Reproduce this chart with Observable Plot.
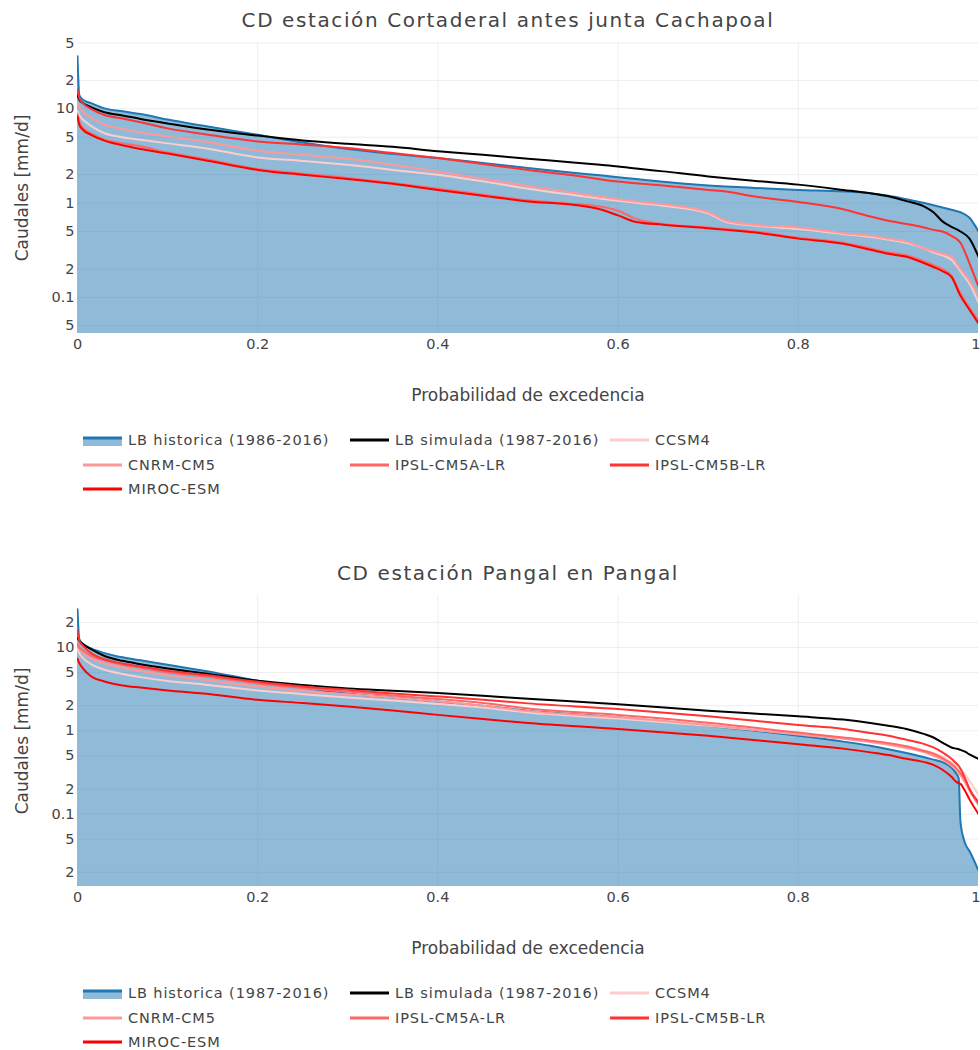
<!DOCTYPE html>
<html><head><meta charset="utf-8">
<script src="https://cdn.jsdelivr.net/npm/d3@7"></script>
<script src="https://cdn.jsdelivr.net/npm/@observablehq/plot@0.6"></script>
<style>
body{margin:0;background:#fff;font-family:"DejaVu Sans",Verdana,sans-serif;color:#444;}
#root{position:relative;width:980px;height:1050px;overflow:hidden;}
.panel{position:absolute;left:0;width:980px;height:540px;}
.title{position:absolute;left:0;top:6px;width:1016px;text-align:center;font-size:20px;letter-spacing:1.6px;line-height:28px;color:#444;}
.plot{position:absolute;left:0;top:30px;}
.leg{position:absolute;display:flex;align-items:center;font-size:14.5px;letter-spacing:0.9px;color:#444;white-space:nowrap;height:20px;}
.leg svg{margin-right:5px;}
</style></head>
<body><div id="root"></div>
<script>
// ---------- DATA ----------
const titles = ["CD estación Cortaderal antes junta Cachapoal", "CD estación Pangal en Pangal"];
const histNames = ["LB historica (1986-2016)", "LB historica (1987-2016)"];
const simName = "LB simulada (1987-2016)";
const gcmNames = ["CCSM4", "CNRM-CM5", "IPSL-CM5A-LR", "IPSL-CM5B-LR", "MIROC-ESM"];
const xTicks = [0, 0.2, 0.4, 0.6, 0.8];
const xTickLast = [1];

// Panel 1: Cortaderal (exceedance probability grid)
const pTop = [0, 0.002, 0.006, 0.015, 0.03, 0.05, 0.07, 0.1, 0.14, 0.2, 0.25, 0.3, 0.35, 0.4, 0.45, 0.5, 0.55, 0.58, 0.6, 0.62, 0.65, 0.7, 0.72, 0.75, 0.8, 0.85, 0.88, 0.9, 0.92, 0.94, 0.95, 0.96, 0.97, 0.98, 0.99, 1.0];
const histTop = [36, 14, 12.5, 11.5, 10.1, 9.4, 8.8, 7.7, 6.6, 5.3, 4.4, 3.75, 3.33, 3.0, 2.66, 2.36, 2.1, 1.97, 1.88, 1.8, 1.68, 1.54, 1.5, 1.45, 1.38, 1.33, 1.27, 1.2, 1.1, 1.0, 0.95, 0.9, 0.85, 0.8, 0.7, 0.5];
const simTop = [14, 12.5, 11.5, 10.4, 9.2, 8.5, 7.8, 7.0, 6.1, 5.2, 4.6, 4.25, 3.95, 3.55, 3.25, 2.95, 2.7, 2.55, 2.45, 2.33, 2.17, 1.92, 1.84, 1.73, 1.57, 1.38, 1.27, 1.18, 1.05, 0.92, 0.8, 0.64, 0.56, 0.5, 0.42, 0.27];
const ccsm4Top = [9.5, 8.6, 7.7, 6.6, 5.5, 5.0, 4.7, 4.3, 3.85, 3.05, 2.8, 2.55, 2.25, 2.0, 1.7, 1.42, 1.22, 1.12, 1.06, 1.01, 0.94, 0.78, 0.63, 0.58, 0.53, 0.47, 0.44, 0.41, 0.38, 0.33, 0.3, 0.28, 0.25, 0.19, 0.14, 0.088];
const cnrmTop = [11.5, 10.4, 9.3, 8.1, 6.8, 6.1, 5.6, 5.1, 4.5, 3.6, 3.25, 2.95, 2.55, 2.15, 1.8, 1.52, 1.29, 1.17, 1.1, 1.04, 0.97, 0.8, 0.65, 0.59, 0.55, 0.48, 0.45, 0.42, 0.39, 0.33, 0.31, 0.29, 0.27, 0.2, 0.15, 0.104];
const ipslATop = [8.8, 7.3, 6.3, 5.5, 4.7, 4.3, 4.0, 3.45, 2.95, 2.3, 2.05, 1.85, 1.63, 1.42, 1.23, 1.07, 0.98, 0.92, 0.83, 0.68, 0.6, 0.55, 0.53, 0.5, 0.43, 0.38, 0.33, 0.3, 0.28, 0.24, 0.22, 0.2, 0.17, 0.11, 0.078, 0.056];
const ipslBTop = [16, 13, 11.5, 10.0, 8.6, 7.9, 7.2, 6.2, 5.4, 4.5, 4.17, 3.83, 3.4, 3.0, 2.6, 2.25, 1.97, 1.79, 1.69, 1.62, 1.54, 1.38, 1.33, 1.18, 1.03, 0.86, 0.72, 0.65, 0.6, 0.55, 0.52, 0.5, 0.45, 0.38, 0.23, 0.13];
const mirocTop = [8.3, 6.8, 6.0, 5.3, 4.6, 4.1, 3.75, 3.35, 2.87, 2.25, 2.0, 1.8, 1.6, 1.38, 1.2, 1.04, 0.96, 0.86, 0.74, 0.63, 0.59, 0.54, 0.52, 0.49, 0.42, 0.37, 0.32, 0.29, 0.27, 0.23, 0.21, 0.19, 0.165, 0.104, 0.074, 0.053];

// Panel 2: Pangal
const pBot = [0, 0.002, 0.006, 0.015, 0.03, 0.05, 0.07, 0.1, 0.14, 0.2, 0.25, 0.3, 0.35, 0.4, 0.45, 0.5, 0.6, 0.7, 0.8, 0.85, 0.88, 0.9, 0.92, 0.94, 0.95, 0.96, 0.97, 0.975, 0.978, 0.98, 0.985, 0.99, 1.0];
const histBot = [28.8, 12.6, 11, 9.7, 8.55, 7.6, 7.0, 6.2, 5.25, 3.98, 3.3, 2.8, 2.5, 2.25, 2.0, 1.74, 1.45, 1.15, 0.87, 0.74, 0.66, 0.6, 0.54, 0.48, 0.45, 0.42, 0.36, 0.31, 0.27, 0.08, 0.045, 0.036, 0.021];
const simBot = [13, 12, 11, 9.55, 7.9, 6.9, 6.3, 5.6, 4.9, 3.98, 3.54, 3.22, 3.02, 2.83, 2.63, 2.42, 2.08, 1.74, 1.49, 1.36, 1.24, 1.15, 1.05, 0.91, 0.83, 0.72, 0.63, 0.61, 0.6, 0.59, 0.56, 0.52, 0.46];
const ccsm4Bot = [9.5, 8.5, 7.5, 6.3, 5.4, 4.8, 4.4, 3.95, 3.6, 3.05, 2.75, 2.5, 2.3, 2.1, 1.9, 1.65, 1.4, 1.15, 0.92, 0.82, 0.76, 0.71, 0.65, 0.58, 0.54, 0.49, 0.42, 0.39, 0.37, 0.35, 0.3, 0.25, 0.17];
const cnrmBot = [10.5, 9.5, 8.6, 7.4, 6.4, 5.7, 5.2, 4.6, 4.1, 3.4, 3.0, 2.75, 2.5, 2.25, 2.0, 1.72, 1.45, 1.17, 0.9, 0.8, 0.73, 0.68, 0.62, 0.55, 0.5, 0.45, 0.38, 0.34, 0.31, 0.29, 0.24, 0.19, 0.13];
const ipslABot = [11, 10, 9.2, 8.0, 7.0, 6.2, 5.7, 5.0, 4.5, 3.7, 3.25, 2.95, 2.65, 2.4, 2.15, 1.85, 1.55, 1.25, 0.95, 0.83, 0.76, 0.71, 0.65, 0.57, 0.53, 0.47, 0.4, 0.36, 0.33, 0.31, 0.26, 0.2, 0.13];
const ipslBBot = [15.8, 12, 10.5, 8.55, 7.2, 6.4, 5.9, 5.25, 4.7, 3.87, 3.4, 3.1, 2.8, 2.58, 2.36, 2.13, 1.82, 1.49, 1.17, 1.05, 0.94, 0.87, 0.78, 0.69, 0.63, 0.55, 0.46, 0.41, 0.38, 0.35, 0.27, 0.2, 0.14];
const mirocBot = [7.3, 6.5, 5.6, 4.5, 3.9, 3.5, 3.3, 3.05, 2.8, 2.35, 2.15, 1.95, 1.75, 1.55, 1.38, 1.24, 1.05, 0.87, 0.69, 0.61, 0.55, 0.51, 0.46, 0.42, 0.39, 0.34, 0.28, 0.245, 0.235, 0.23, 0.19, 0.15, 0.1];

const yDomTop = [0.0414, 50.5];
const yDomBot = [0.0135, 42];
const yTicksTop = [0.05, 0.1, 0.2, 0.5, 1, 2, 5, 10, 20, 50];
const yTicksBot = [0.02, 0.05, 0.1, 0.2, 0.5, 1, 2, 5, 10, 20];

// ---------- STYLE ----------
const histColor = "#1f77b4";
const simColor = "#000000";
const gcmColors = ["#ffcccc", "#ff9999", "#ff6666", "#ff3333", "#ff0000"];
const FONT = "'DejaVu Sans', Verdana, sans-serif";

function yFmt(d) {
  const e = Math.log10(d);
  if (Math.abs(e - Math.round(e)) < 1e-9) return String(+d.toPrecision(3));
  return String(Math.round(d / Math.pow(10, Math.floor(e))));
}

function makePlot(P, hist, sim, gcms, yDomain, yTicks) {
  const hd = P.map((p, i) => ({p, v: hist[i]}));
  const sd = P.map((p, i) => ({p, v: sim[i]}));
  const curve = "monotone-x";
  return Plot.plot({
    width: 980, height: 385,
    marginTop: 12, marginBottom: 82, marginLeft: 77, marginRight: 2,
    style: {fontFamily: FONT, fontSize: "14.5px", color: "#444", background: "transparent"},
    x: {domain: [0, 1], label: null},
    y: {type: "log", domain: yDomain, axis: null, label: null},
    marks: [
      Plot.gridY(yTicks, {stroke: "#eeeeee", strokeOpacity: 1, strokeWidth: 1}),
      Plot.gridX([0.2, 0.4, 0.6, 0.8], {stroke: "#eeeeee", strokeOpacity: 1, strokeWidth: 1}),
      Plot.areaY(hd, {x: "p", y1: yDomain[0], y2: "v", fill: histColor, fillOpacity: 0.5, curve, clip: true}),
      Plot.lineY(hd, {x: "p", y: "v", stroke: histColor, strokeWidth: 2, curve, clip: true}),
      Plot.lineY(sd, {x: "p", y: "v", stroke: simColor, strokeWidth: 2, curve, clip: true}),
      ...gcms.map((vals, k) => Plot.lineY(P.map((p, i) => ({p, v: vals[i]})),
        {x: "p", y: "v", stroke: gcmColors[k], strokeWidth: 2, curve, clip: true})),
      Plot.axisX(xTicks, {tickSize: 0, tickPadding: 5, tickFormat: d => String(d), fontSize: 14.5, label: null}),
      Plot.text(xTickLast, {x: d => d, text: d => String(d), frameAnchor: "bottom", lineAnchor: "top", textAnchor: "end", dx: 2, dy: 5, fontSize: 14.5, fill: "#444"}),
      Plot.text(yTicks, {y: d => d, text: yFmt, frameAnchor: "left", textAnchor: "end", dx: -3, fontSize: 14.5, fill: "#444"}),
      Plot.text(["Probabilidad de excedencia"], {frameAnchor: "bottom", lineAnchor: "middle", dy: 62, fontSize: 17, fill: "#444"}),
      Plot.text(["Caudales [mm/d]"], {frameAnchor: "left", textAnchor: "middle", lineAnchor: "middle", dx: -55, rotate: -90, fontSize: 17, fill: "#444"})
    ]
  });
}

function legendSym(kind, color) {
  const ns = "http://www.w3.org/2000/svg";
  const s = document.createElementNS(ns, "svg");
  s.setAttribute("width", 41); s.setAttribute("height", 14);
  if (kind === "fill") {
    s.innerHTML = `<rect x="1" y="5" width="39" height="8" fill="${color}" fill-opacity="0.5"></rect><line x1="1" x2="40" y1="5" y2="5" stroke="${color}" stroke-width="3"></line>`;
  } else {
    s.innerHTML = `<line x1="1" x2="40" y1="7" y2="7" stroke="${color}" stroke-width="3"></line>`;
  }
  return s;
}

function buildPanel(top, idx, P, hist, sim, gcms, yDomain, yTicks) {
  const root = document.getElementById("root");
  const panel = document.createElement("div");
  panel.className = "panel"; panel.style.top = top + "px";
  const t = document.createElement("div"); t.className = "title"; t.textContent = titles[idx];
  panel.appendChild(t);
  const pw = document.createElement("div"); pw.className = "plot";
  pw.appendChild(makePlot(P, hist, sim, gcms, yDomain, yTicks));
  panel.appendChild(pw);
  const items = [
    {name: histNames[idx], kind: "fill", color: histColor},
    {name: simName, kind: "line", color: simColor},
    ...gcmNames.map((n, k) => ({name: n, kind: "line", color: gcmColors[k]}))
  ];
  const cols = [82, 349, 609];
  const rows = [430, 455, 479];
  items.forEach((it, i) => {
    const el = document.createElement("div");
    el.className = "leg";
    el.style.left = cols[i % 3] + "px";
    el.style.top = rows[Math.floor(i / 3)] + "px";
    el.appendChild(legendSym(it.kind, it.color));
    const sp = document.createElement("span"); sp.textContent = it.name;
    el.appendChild(sp);
    panel.appendChild(el);
  });
  root.appendChild(panel);
}

buildPanel(0, 0, pTop, histTop, simTop, [ccsm4Top, cnrmTop, ipslATop, ipslBTop, mirocTop], yDomTop, yTicksTop);
buildPanel(553, 1, pBot, histBot, simBot, [ccsm4Bot, cnrmBot, ipslABot, ipslBBot, mirocBot], yDomBot, yTicksBot);
</script></body></html>
